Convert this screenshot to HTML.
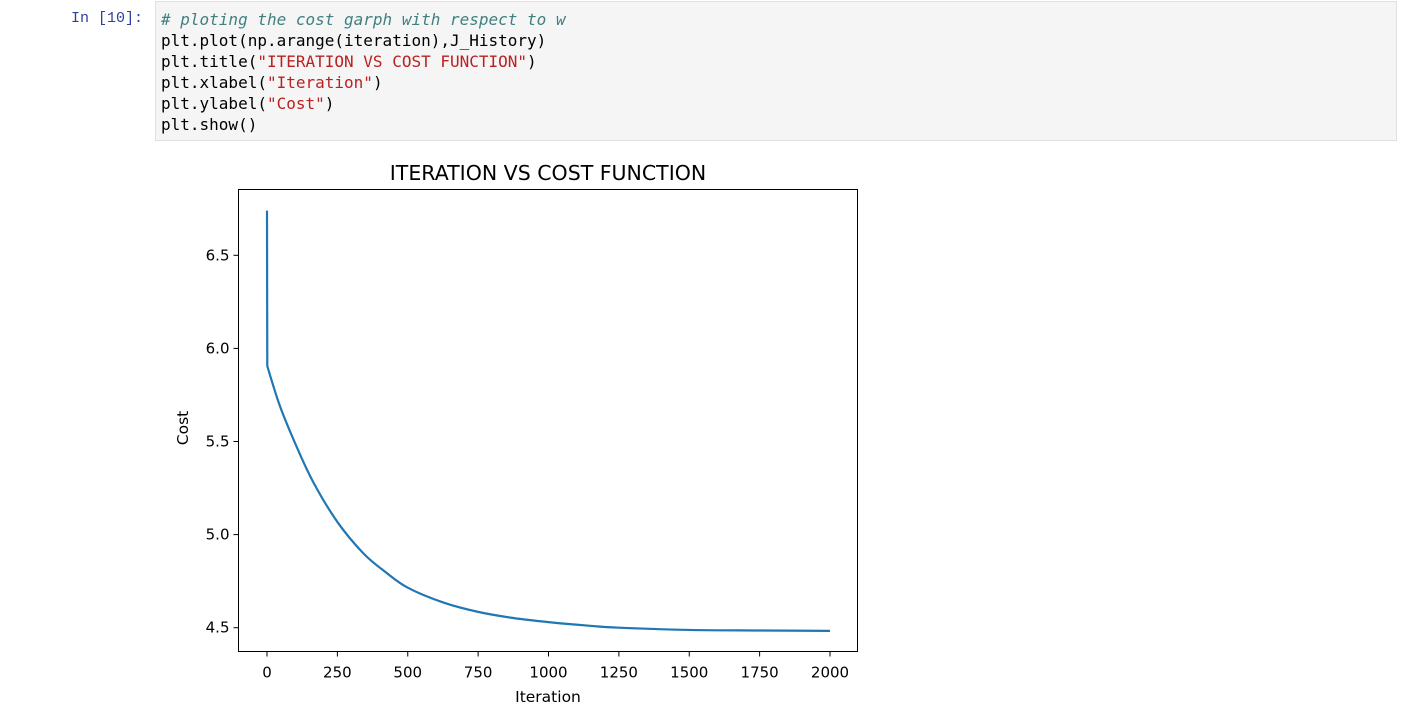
<!DOCTYPE html>
<html><head><meta charset="utf-8"><style>
body{margin:0;background:#fff;width:1427px;height:726px;overflow:hidden;position:relative;font-family:"Liberation Sans",sans-serif}
.prompt{position:absolute;left:71px;top:8px;font:15px/21px "Liberation Mono","DejaVu Sans Mono",monospace;color:#303f9f}
.cell{position:absolute;left:155px;top:1px;width:1242px;height:140px;background:#f5f5f5;border:1px solid #e0e0e0;box-sizing:border-box}
.code{position:absolute;left:5px;top:7px;font:16px/21px "DejaVu Sans Mono","Liberation Mono",monospace;color:#000;white-space:pre}
.c{color:#408080;font-style:italic}.s{color:#ba2121}
svg{position:absolute;left:0;top:0}
</style></head><body>
<div class="prompt">In [10]:</div>
<div class="cell"><div class="code"><span class="c"># ploting the cost garph with respect to w</span>
plt.plot(np.arange(iteration),J_History)
plt.title(<span class="s">"ITERATION VS COST FUNCTION"</span>)
plt.xlabel(<span class="s">"Iteration"</span>)
plt.ylabel(<span class="s">"Cost"</span>)
plt.show()</div></div>
<svg id="chart" width="1427" height="726" font-family="'DejaVu Sans','Liberation Sans',sans-serif"></svg>
<script>
const iterations=[0,1,46,105,165,250,342,420,500,627,750,875,1000,1148,1250,1500,1750,2000];
const costs=[6.74,5.905,5.69,5.473,5.28,5.068,4.90,4.80,4.715,4.635,4.585,4.552,4.53,4.51,4.50,4.488,4.485,4.483];
const xTicks=[0,250,500,750,1000,1250,1500,1750,2000];
const yTicks=[4.5,5.0,5.5,6.0,6.5];
const NS="http://www.w3.org/2000/svg";
const svg=document.getElementById('chart');
const L=238.5,R=857.5,T=189.5,B=651.5;
const xs=v=>267+v*(830-267)/2000;
const ys=v=>627.7-(v-4.5)*186.2;
function mk(t,a,p){const e=document.createElementNS(NS,t);for(const k in a)e.setAttribute(k,a[k]);(p||svg).appendChild(e);return e;}
let pts=iterations.map((v,i)=>[xs(v),ys(costs[i])]);
let d='M'+pts[0][0]+','+pts[0][1]+' L'+pts[1][0]+','+pts[1][1];
for(let i=1;i<pts.length-1;i++){const p0=pts[Math.max(i-1,1)],p1=pts[i],p2=pts[i+1],p3=pts[Math.min(i+2,pts.length-1)];
d+=' C'+(p1[0]+(p2[0]-p0[0])/6)+','+(p1[1]+(p2[1]-p0[1])/6)+' '+(p2[0]-(p3[0]-p1[0])/6)+','+(p2[1]-(p3[1]-p1[1])/6)+' '+p2[0]+','+p2[1];}
const line=mk('path',{d:d,fill:'none',stroke:'#1f77b4','stroke-width':2.2,'stroke-linejoin':'round'});


const frame=mk('rect',{x:L,y:T,width:R-L,height:B-T,fill:'none',stroke:'#000','stroke-width':1});


xTicks.forEach(v=>{const x=xs(v);mk('line',{x1:x,x2:x,y1:B,y2:B+5,stroke:'#000'});
const t=mk('text',{x:x,y:B+26,'text-anchor':'middle','font-size':15,fill:'#000'});t.textContent=v;

});
yTicks.forEach(v=>{const y=ys(v);mk('line',{x1:L,x2:L-5,y1:y,y2:y,stroke:'#000'});
const t=mk('text',{x:L-9,y:y+5,'text-anchor':'end','font-size':15,fill:'#000'});t.textContent=v.toFixed(1);

});
const title=mk('text',{x:548,y:180,'text-anchor':'middle','font-size':20.5,fill:'#000'});title.textContent='ITERATION VS COST FUNCTION';


const xl=mk('text',{x:548,y:702,'text-anchor':'middle','font-size':15.5,fill:'#000'});xl.textContent='Iteration';


const yl=mk('text',{x:0,y:0,'text-anchor':'middle','font-size':15.5,fill:'#000',transform:'translate(188,428) rotate(-90)'});yl.textContent='Cost';


</script>
</body></html>
